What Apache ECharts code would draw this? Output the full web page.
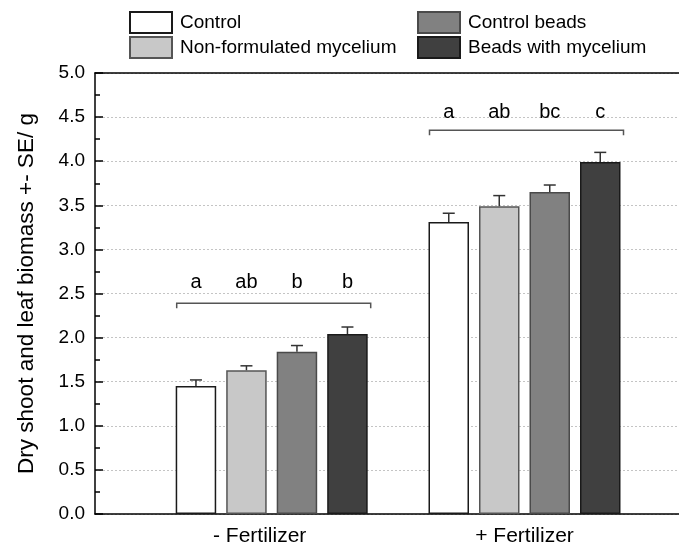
<!DOCTYPE html>
<html>
<head>
<meta charset="utf-8">
<script src="https://cdn.jsdelivr.net/npm/echarts@6/dist/echarts.min.js"></script>
<style>
  html, body { margin: 0; padding: 0; background: #ffffff; }
  #chart { width: 679px; height: 551px; }
</style>
</head>
<body>
<div id="chart"></div>
<script>
// Dry shoot and leaf biomass (mean and SE) per treatment, without / with fertilizer
const groups = ['- Fertilizer', '+ Fertilizer'];
const treatments = ['Control', 'Non-formulated mycelium', 'Control beads', 'Beads with mycelium'];

const controlMean = [1.45, 3.31];
const controlSE = [0.07, 0.10];
const nonFormulatedMean = [1.63, 3.49];
const nonFormulatedSE = [0.05, 0.12];
const controlBeadsMean = [1.84, 3.65];
const controlBeadsSE = [0.07, 0.08];
const beadsMyceliumMean = [2.04, 3.99];
const beadsMyceliumSE = [0.08, 0.11];

// Significance letters per group, bracket height and letter height (axis units)
const letters = [['a', 'ab', 'b', 'b'], ['a', 'ab', 'bc', 'c']];
const bracketLevel = [2.39, 4.35];
const letterLevel = [2.62, 4.55];

// Value axis
const yMin = 0;
const yMax = 5;
const yStep = 0.5;

const means = [controlMean, nonFormulatedMean, controlBeadsMean, beadsMyceliumMean];
const errors = [controlSE, nonFormulatedSE, controlBeadsSE, beadsMyceliumSE];

const FONT = "'Liberation Sans', Arial, Helvetica, sans-serif";
const fills = ['#ffffff', '#c8c8c8', '#818181', '#404040'];
const borders = ['#1a1a1a', '#555555', '#4a4a4a', '#1a1a1a'];

const BAR_W = 40.5;
const GAP_PX = 10;
const step = BAR_W + GAP_PX;
const offsets = treatments.map((_, k) => (k - (treatments.length - 1) / 2) * step);

const gridTop = 73;
const gridBottom = 37;

const barSeries = treatments.map((name, k) => ({
  name: name,
  type: 'bar',
  xAxisIndex: 2,
  yAxisIndex: 1,
  barWidth: BAR_W,
  barGap: (GAP_PX / BAR_W * 100) + '%',
  data: means[k],
  itemStyle: { color: fills[k], borderColor: borders[k], borderWidth: 1.5 },
  emphasis: { disabled: true },
  z: 3
}));

const errorSeries = treatments.map((name, k) => ({
  name: 'se-' + k,
  type: 'custom',
  xAxisIndex: 2,
  yAxisIndex: 1,
  z: 4,
  silent: true,
  data: groups.map((g, i) => [i, means[k][i], errors[k][i]]),
  renderItem: function (params, api) {
    const base = api.coord([api.value(0), api.value(1)]);
    const top = api.coord([api.value(0), api.value(1) + api.value(2)]);
    const x = base[0] + offsets[k];
    const cap = 6;
    const style = { stroke: '#333333', lineWidth: 1.5, fill: null };
    return {
      type: 'group',
      children: [
        { type: 'line', shape: { x1: x, y1: base[1], x2: x, y2: top[1] }, style: style },
        { type: 'line', shape: { x1: x - cap, y1: top[1], x2: x + cap, y2: top[1] }, style: style }
      ]
    };
  }
}));

const bracketSeries = {
  name: 'letters',
  type: 'custom',
  xAxisIndex: 2,
  yAxisIndex: 1,
  z: 4,
  silent: true,
  data: groups.map((g, i) => [i, bracketLevel[i], letterLevel[i]]),
  renderItem: function (params, api) {
    const i = params.dataIndex;
    const b = api.coord([api.value(0), api.value(1)]);
    const l = api.coord([api.value(0), api.value(2)]);
    const left = b[0] + offsets[0] - BAR_W / 2 + 1;
    const right = b[0] + offsets[offsets.length - 1] + BAR_W / 2 + 3;
    const drop = 5;
    const children = [{
      type: 'polyline',
      shape: { points: [[left, b[1] + drop], [left, b[1]], [right, b[1]], [right, b[1] + drop]] },
      style: { stroke: '#555555', lineWidth: 1.5, fill: null }
    }];
    letters[i].forEach((t, k) => {
      children.push({
        type: 'text',
        x: l[0] + offsets[k],
        y: l[1],
        style: {
          text: t, fill: '#000000', font: '20px ' + FONT,
          align: 'center', verticalAlign: 'middle'
        }
      });
    });
    return { type: 'group', children: children };
  }
};

const legendCommon = {
  orient: 'vertical',
  top: 11,
  padding: 0,
  itemWidth: 42,
  itemHeight: 21,
  itemGap: 2,
  icon: 'rect',
  selectedMode: false,
  textStyle: { fontFamily: FONT, fontSize: 19, color: '#000000', padding: [0, 0, 0, 3] }
};

const option = {
  animation: false,
  backgroundColor: '#ffffff',
  textStyle: { fontFamily: FONT },
  legend: [
    Object.assign({ left: 129, data: [treatments[0], treatments[1]] }, legendCommon),
    Object.assign({ left: 417, data: [treatments[2], treatments[3]] }, legendCommon)
  ],
  grid: [
    { left: 95, right: -3, top: gridTop, bottom: gridBottom },
    { left: 145.3, right: 28.1, top: gridTop, bottom: gridBottom }
  ],
  xAxis: [
    {
      gridIndex: 0, type: 'value', min: 0, max: 1, position: 'bottom',
      axisLine: { show: true, onZero: false, lineStyle: { color: '#000000', width: 1.5 } },
      axisTick: { show: false }, axisLabel: { show: false }, splitLine: { show: false }
    },
    {
      gridIndex: 0, type: 'value', min: 0, max: 1, position: 'top',
      axisLine: { show: true, onZero: false, lineStyle: { color: '#000000', width: 1.5 } },
      axisTick: { show: false }, axisLabel: { show: false }, splitLine: { show: false }
    },
    {
      gridIndex: 1, type: 'category', data: groups, position: 'bottom',
      axisLine: { show: false }, axisTick: { show: false }, splitLine: { show: false },
      axisLabel: {
        fontFamily: FONT, fontSize: 21, color: '#000000', margin: 12,
        // the first group label sits slightly left of its bar group
        formatter: (v, idx) => idx === 0 ? '{shift|' + v + '}' : v,
        rich: {
          shift: { fontFamily: FONT, fontSize: 21, color: '#000000', padding: [0, 24, 0, 0] }
        }
      }
    }
  ],
  yAxis: [
    {
      gridIndex: 0, type: 'value', min: yMin, max: yMax, interval: yStep,
      name: 'Dry shoot and leaf biomass +- SE/ g',
      nameLocation: 'middle', nameGap: 57,
      nameTextStyle: { fontFamily: FONT, fontSize: 22.5, color: '#000000' },
      axisLine: { show: true, lineStyle: { color: '#000000', width: 1.5 } },
      axisTick: { show: true, inside: true, length: 8, lineStyle: { color: '#000000', width: 1.5 } },
      minorTick: { show: true, splitNumber: 2, length: 5, lineStyle: { color: '#000000', width: 1.5 } },
      axisLabel: {
        fontFamily: FONT, fontSize: 19, color: '#000000', margin: 10,
        formatter: v => v.toFixed(1)
      },
      splitLine: { show: true, lineStyle: { color: '#c4c4c4', type: [2, 2], width: 1 } }
    },
    {
      gridIndex: 1, type: 'value', min: yMin, max: yMax, show: false,
      splitLine: { show: false }
    }
  ],
  series: barSeries.concat(errorSeries, [bracketSeries])
};

const chart = echarts.init(document.getElementById('chart'), null, { renderer: 'canvas' });
chart.setOption(option);
</script>
</body>
</html>
